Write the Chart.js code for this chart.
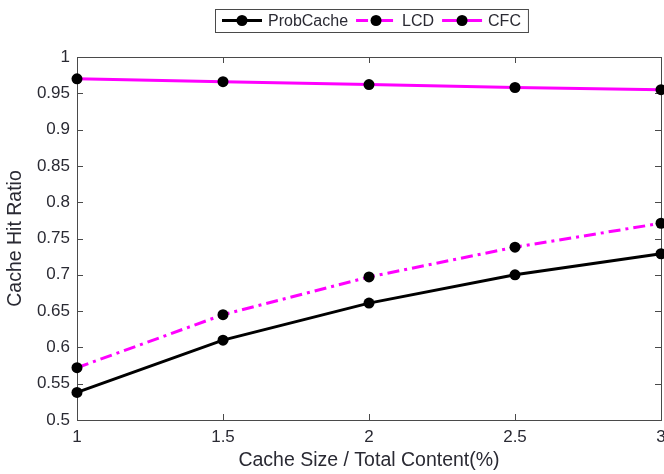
<!DOCTYPE html>
<html>
<head>
<meta charset="utf-8">
<script src="https://cdn.jsdelivr.net/npm/chart.js@4"></script>
<style>
    html, body { margin: 0; padding: 0; background: #fff; overflow: hidden; }
    #wrap { width: 680px; height: 474px; }
</style>
</head>
<body>
<div id="wrap"><canvas id="myChart" width="680" height="474"></canvas></div>
<script>
// chart data
var xValues = [1, 1.5, 2, 2.5, 3];
var probCache = [0.538, 0.610, 0.661, 0.700, 0.729];
var lcd = [0.572, 0.645, 0.697, 0.738, 0.771];
var cfc = [0.970, 0.966, 0.962, 0.958, 0.955];
var seriesNames = ['ProbCache', 'LCD', 'CFC'];
var xTitle = 'Cache Size / Total Content(%)';
var yTitle = 'Cache Hit Ratio';

var FONT = "'Liberation Sans', Arial, sans-serif";
var AXIS = '#4a4a4a';
var TEXT = '#2a2a33';

function toPoints(ys) {
    return xValues.map(function (x, i) { return { x: x, y: ys[i] }; });
}

function makeSet(label, ys, color, dash) {
    return {
        label: label,
        data: toPoints(ys),
        borderColor: color,
        borderWidth: 3,
        borderDash: dash,
        pointRadius: 5.5,
        pointBackgroundColor: '#000',
        pointBorderColor: '#000',
        pointBorderWidth: 0,
        tension: 0,
        clip: false
    };
}

// frame with inward ticks, matlab style
var framePlugin = {
    id: 'frame',
    beforeDatasetsDraw: function (chart) {
        var ctx = chart.ctx, a = chart.chartArea;
        var xs = chart.scales.x, ys = chart.scales.y;
        ctx.save();
        ctx.strokeStyle = AXIS;
        ctx.lineWidth = 1;
        ctx.strokeRect(a.left + 0.5, a.top + 0.5, a.right - a.left, a.bottom - a.top);
        var len = 6;
        ctx.beginPath();
        xs.ticks.forEach(function (t) {
            var px = Math.round(xs.getPixelForValue(t.value)) + 0.5;
            ctx.moveTo(px, a.bottom); ctx.lineTo(px, a.bottom - len);
            ctx.moveTo(px, a.top); ctx.lineTo(px, a.top + len);
        });
        ys.ticks.forEach(function (t) {
            var py = Math.round(ys.getPixelForValue(t.value)) + 0.5;
            ctx.moveTo(a.left, py); ctx.lineTo(a.left + len, py);
            ctx.moveTo(a.right, py); ctx.lineTo(a.right - len, py);
        });
        ctx.stroke();
        ctx.restore();
    }
};

// boxed legend with line + marker samples
var legendPlugin = {
    id: 'boxLegend',
    afterDraw: function (chart) {
        var ctx = chart.ctx, a = chart.chartArea;
        var sets = chart.data.datasets;
        ctx.save();
        ctx.font = '16px ' + FONT;
        var sample = 40, gap = 6, itemGap = 8, pad = 7;
        var total = pad * 2;
        sets.forEach(function (ds, i) {
            total += sample + gap + ctx.measureText(ds.label).width;
            if (i < sets.length - 1) total += itemGap;
        });
        var left = Math.round(371 - total / 2);
        var top = 9, h = 23, cy = top + h / 2;
        ctx.fillStyle = '#fff';
        ctx.fillRect(left, top, total, h);
        ctx.strokeStyle = AXIS;
        ctx.lineWidth = 1;
        ctx.strokeRect(left + 0.5, top + 0.5, total, h);
        var x = left + pad;
        sets.forEach(function (ds) {
            ctx.strokeStyle = ds.borderColor;
            ctx.lineWidth = 3;
            ctx.setLineDash(ds.borderDash || []);
            ctx.beginPath();
            ctx.moveTo(x, cy); ctx.lineTo(x + sample, cy);
            ctx.stroke();
            ctx.setLineDash([]);
            ctx.fillStyle = '#000';
            ctx.beginPath();
            ctx.arc(x + sample / 2, cy, 5.5, 0, Math.PI * 2);
            ctx.fill();
            x += sample + gap;
            ctx.fillStyle = TEXT;
            ctx.textBaseline = 'middle';
            ctx.fillText(ds.label, x, cy + 1);
            x += ctx.measureText(ds.label).width + itemGap;
        });
        ctx.restore();
    }
};

var ctx = document.getElementById('myChart').getContext('2d');
var myChart = new Chart(ctx, {
    type: 'line',
    data: {
        datasets: [
            makeSet(seriesNames[0], probCache, '#000000', []),
            makeSet(seriesNames[1], lcd, '#ff00ff', [12, 5, 3, 5]),
            makeSet(seriesNames[2], cfc, '#ff00ff', [])
        ]
    },
    options: {
        responsive: false,
        animation: false,
        layout: { padding: { top: 57, right: 19, left: 0, bottom: 0 } },
        plugins: {
            legend: { display: false },
            tooltip: { enabled: false }
        },
        scales: {
            x: {
                type: 'linear',
                min: 1,
                max: 3,
                afterFit: function (s) { s.height = 54; },
                ticks: {
                    stepSize: 0.5,
                    padding: 7,
                    color: TEXT,
                    font: { family: FONT, size: 17 },
                    maxRotation: 0,
                    callback: function (v) { return Number(v.toFixed(2)).toString(); }
                },
                grid: { display: false, drawTicks: false },
                border: { display: false },
                title: {
                    display: true,
                    text: xTitle,
                    color: TEXT,
                    font: { family: FONT, size: 19.5 },
                    padding: { top: 0, bottom: 2 }
                }
            },
            y: {
                min: 0.5,
                max: 1,
                afterFit: function (s) { s.width = 77; },
                ticks: {
                    stepSize: 0.05,
                    padding: 7,
                    color: TEXT,
                    font: { family: FONT, size: 17 },
                    callback: function (v) { return Number(v.toFixed(2)).toString(); }
                },
                grid: { display: false, drawTicks: false },
                border: { display: false },
                title: {
                    display: true,
                    text: yTitle,
                    color: TEXT,
                    font: { family: FONT, size: 19.5 },
                    padding: { top: 4, bottom: 0 }
                }
            }
        }
    },
    plugins: [framePlugin, legendPlugin]
});
</script>
</body>
</html>
